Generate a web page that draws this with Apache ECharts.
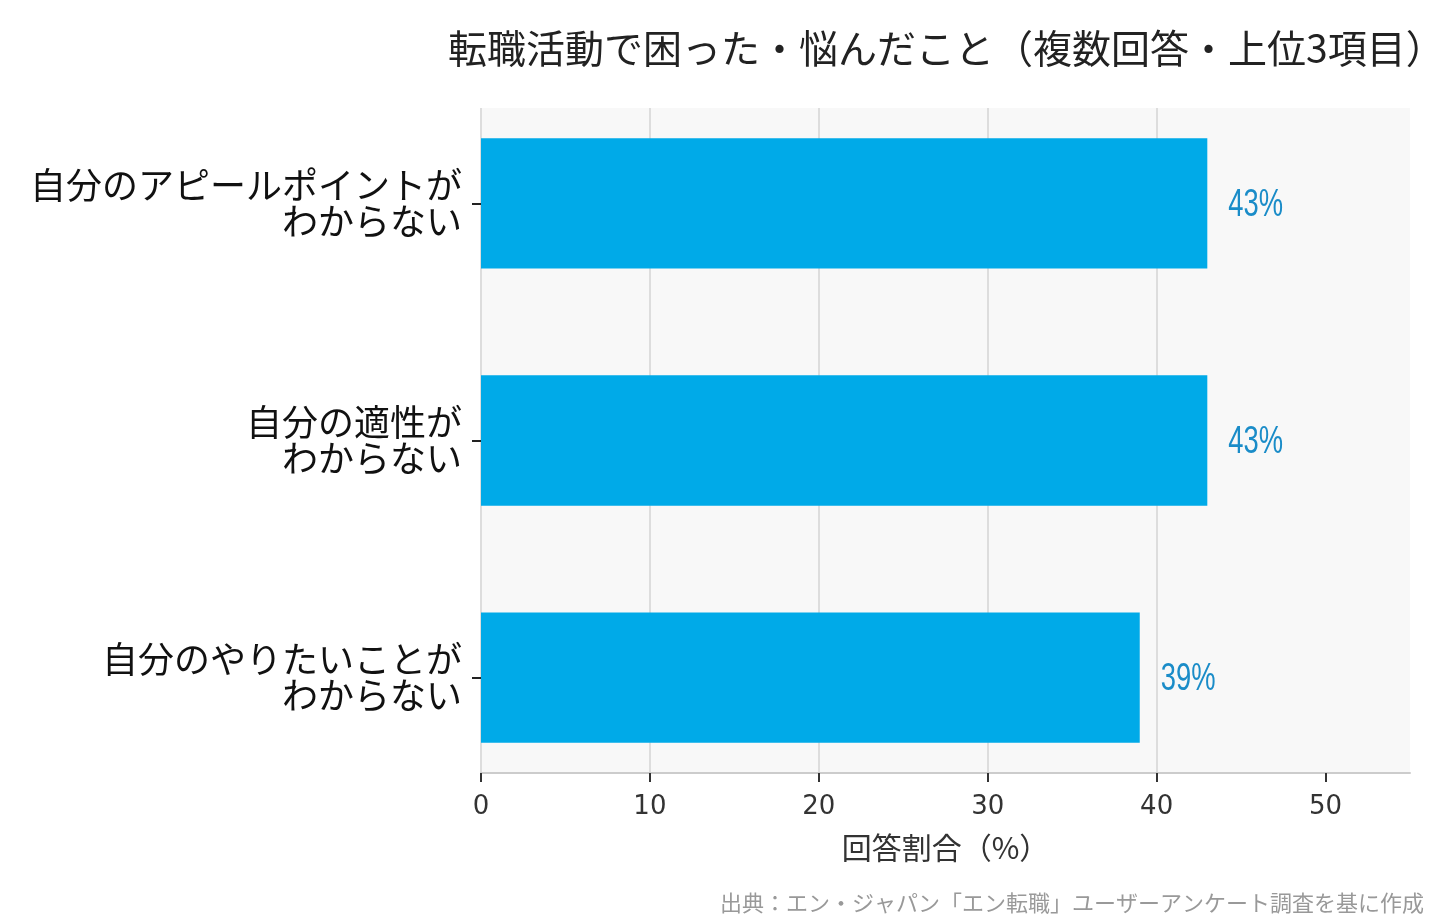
<!DOCTYPE html>
<html>
<head>
<meta charset="utf-8">
<title>転職活動で困った・悩んだこと</title>
<script src="https://cdn.jsdelivr.net/npm/echarts@6/dist/echarts.min.js"></script>
<style>
  html, body { margin: 0; padding: 0; background: #ffffff; }
  #chart { width: 1440px; height: 920px; }
</style>
</head>
<body>
<div id="chart"></div>
<script>
// Chart data
var categories = [
  '自分のアピールポイントが\nわからない',
  '自分の適性が\nわからない',
  '自分のやりたいことが\nわからない'
];
var shares = [43, 43, 39];
var xTicks = [0, 10, 20, 30, 40, 50];

(function () {
  'use strict';

  var JP = '"Noto Sans CJK JP", "Noto Sans", sans-serif';
  var BAR_COLOR = '#00AAE8';
  var LABEL_COLOR = '#1a8cc8';
  var BAR_HEIGHT = 0.55;

  var rows = shares.map(function (v, i) {
    return [v, i];
  });

  function renderBar(params, api) {
    var val = api.value(0);
    var idx = api.value(1);
    var start = api.coord([0, idx]);
    var end = api.coord([val, idx]);
    var h = api.size([0, BAR_HEIGHT])[1];
    return {
      type: 'group',
      children: [
        {
          type: 'rect',
          shape: { x: start[0], y: start[1] - h / 2, width: end[0] - start[0], height: h },
          style: { fill: BAR_COLOR }
        },
        {
          type: 'text',
          x: end[0] + 21,
          y: end[1] + 2,
          scaleX: 0.72,
          style: {
            text: val + '%',
            x: 0,
            y: 0,
            align: 'left',
            verticalAlign: 'middle',
            fill: LABEL_COLOR,
            font: '38px "Liberation Sans Narrow", "Liberation Sans", sans-serif'
          }
        }
      ]
    };
  }

  var chart = echarts.init(document.getElementById('chart'), null, { renderer: 'canvas' });

  chart.setOption({
    backgroundColor: '#ffffff',
    animation: false,
    title: [
      {
        text: '転職活動で困った・悩んだこと（複数回答・上位3項目）',
        left: 448,
        top: 29,
        padding: 0,
        textStyle: { fontFamily: JP, fontSize: 39, fontWeight: 'normal', color: '#222222' }
      },
      {
        text: '出典：エン・ジャパン「エン転職」ユーザーアンケート調査を基に作成',
        right: 16,
        bottom: 6,
        padding: 0,
        textStyle: { fontFamily: JP, fontSize: 22, fontWeight: 'normal', color: '#999999' }
      }
    ],
    grid: {
      left: 481,
      right: 30,
      top: 108,
      bottom: 147,
      show: true,
      backgroundColor: '#f8f8f8',
      borderWidth: 0
    },
    xAxis: {
      type: 'value',
      min: 0,
      max: 55,
      interval: 10,
      name: '回答割合（%）',
      nameLocation: 'middle',
      nameGap: 60,
      nameTextStyle: { fontFamily: JP, fontSize: 30, color: '#333333' },
      axisLine: { show: true, onZero: false, lineStyle: { color: '#cccccc', width: 2 } },
      axisTick: {
        show: true,
        length: 9,
        customValues: xTicks,
        lineStyle: { color: '#333333', width: 2 }
      },
      axisLabel: {
        customValues: xTicks,
        margin: 21,
        fontFamily: '"DejaVu Sans", sans-serif',
        fontSize: 26,
        color: '#333333'
      },
      splitLine: {
        show: true,
        showMaxLine: false,
        lineStyle: { color: '#dddddd', width: 2 }
      }
    },
    yAxis: {
      type: 'value',
      inverse: true,
      min: -0.4025,
      max: 2.4025,
      axisLine: { show: false, onZero: false },
      axisTick: {
        show: true,
        length: 9,
        customValues: [0, 1, 2],
        lineStyle: { color: '#222222', width: 2 }
      },
      axisLabel: {
        customValues: [0, 1, 2],
        margin: 19,
        fontFamily: JP,
        fontSize: 36,
        lineHeight: 36,
        padding: [4, 0, 0, 0],
        color: '#111111',
        align: 'right',
        formatter: function (v) {
          return categories[Math.round(v)] || '';
        }
      },
      splitLine: { show: false }
    },
    series: [
      {
        type: 'custom',
        renderItem: renderBar,
        data: rows,
        encode: { x: 0, y: 1 },
        clip: false
      }
    ]
  });

  window.addEventListener('resize', function () {
    chart.resize();
  });
})();
</script>
</body>
</html>
